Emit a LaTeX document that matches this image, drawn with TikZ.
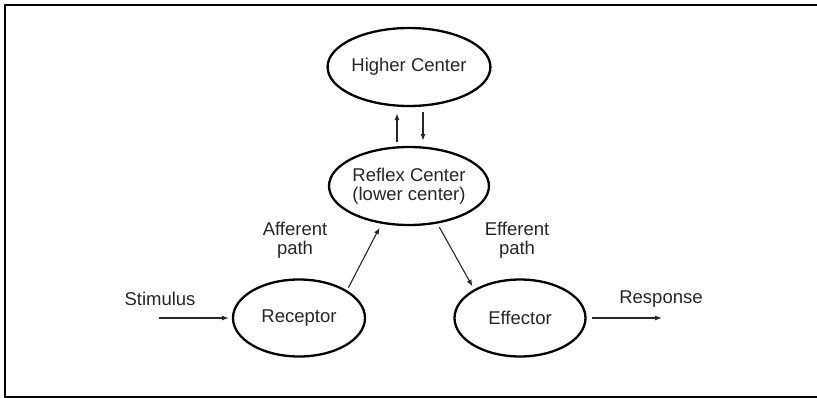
\documentclass[tikz,border=0pt]{standalone}
\usepackage{fontspec}
\setmainfont{Liberation Sans}
\usetikzlibrary{shapes.geometric,arrows.meta}

\begin{document}
\begin{tikzpicture}[x=1pt,y=-1pt,
  frame/.style ={draw=black, line width=2pt},
  centre/.style={ellipse, draw=black, line width=2.3pt, inner sep=0pt,
                 font=\fontsize{18.5}{18.5}\selectfont, text=black!85, align=center},
  lbl/.style   ={font=\fontsize{18.5}{18.5}\selectfont, text=black!85, align=center},
  arr/.style   ={draw=black!85, line width=1.1pt, -{Latex[length=7pt,width=5pt]}}]

  \useasboundingbox (0,0) rectangle (817,398);
  % ---------------- outer frame (right side cut off) ----------------
  \draw[frame] (5,5) rectangle (830,396.5);

  % ---------------- centres ----------------
  \node[centre, minimum width=152pt, minimum height=78pt] (higher)   at (409,67)  {Higher Center};
  \node[centre, minimum width=151pt, minimum height=78pt] (reflex)   at (409,186) {Reflex Center\\(lower center)};
  \node[centre, minimum width=132pt, minimum height=77pt] (receptor) at (299,318) {Receptor};
  \node[centre, minimum width=131pt, minimum height=77pt] (effector) at (520,318) {Effector};

  % ---------------- labels ----------------
  \node[lbl] (stim)  at (160,299) {Stimulus};
  \node[lbl] (resp)  at (661,299) {Response};
  \node[lbl] (aff)   at (295,240) {Afferent\\path};
  \node[lbl] (eff)   at (517,240) {Efferent\\path};

  % ---------------- free ends ----------------
  \coordinate (stimin)  at (159,318);
  \coordinate (respout) at (662,318);

  % ---------------- connectors ----------------
  \draw[arr, shorten >=3pt] (stimin) -- (receptor.west);
  \draw[arr, shorten <=3pt, shorten >=4pt] (receptor.30) -- (reflex.234);
  \draw[arr, shorten <=4pt, shorten >=3pt] (reflex.307) -- (effector.148);
  \draw[arr, shorten <=5pt] (effector.east) -- (respout);
  \draw[arr] ([xshift=-12pt,yshift=4pt]reflex.north) -- ([xshift=-12pt,yshift=-6pt]higher.south);
  \draw[arr] ([xshift=14pt,yshift=-5pt]higher.south) -- ([xshift=14pt,yshift=5pt]reflex.north);
\end{tikzpicture}
\end{document}
